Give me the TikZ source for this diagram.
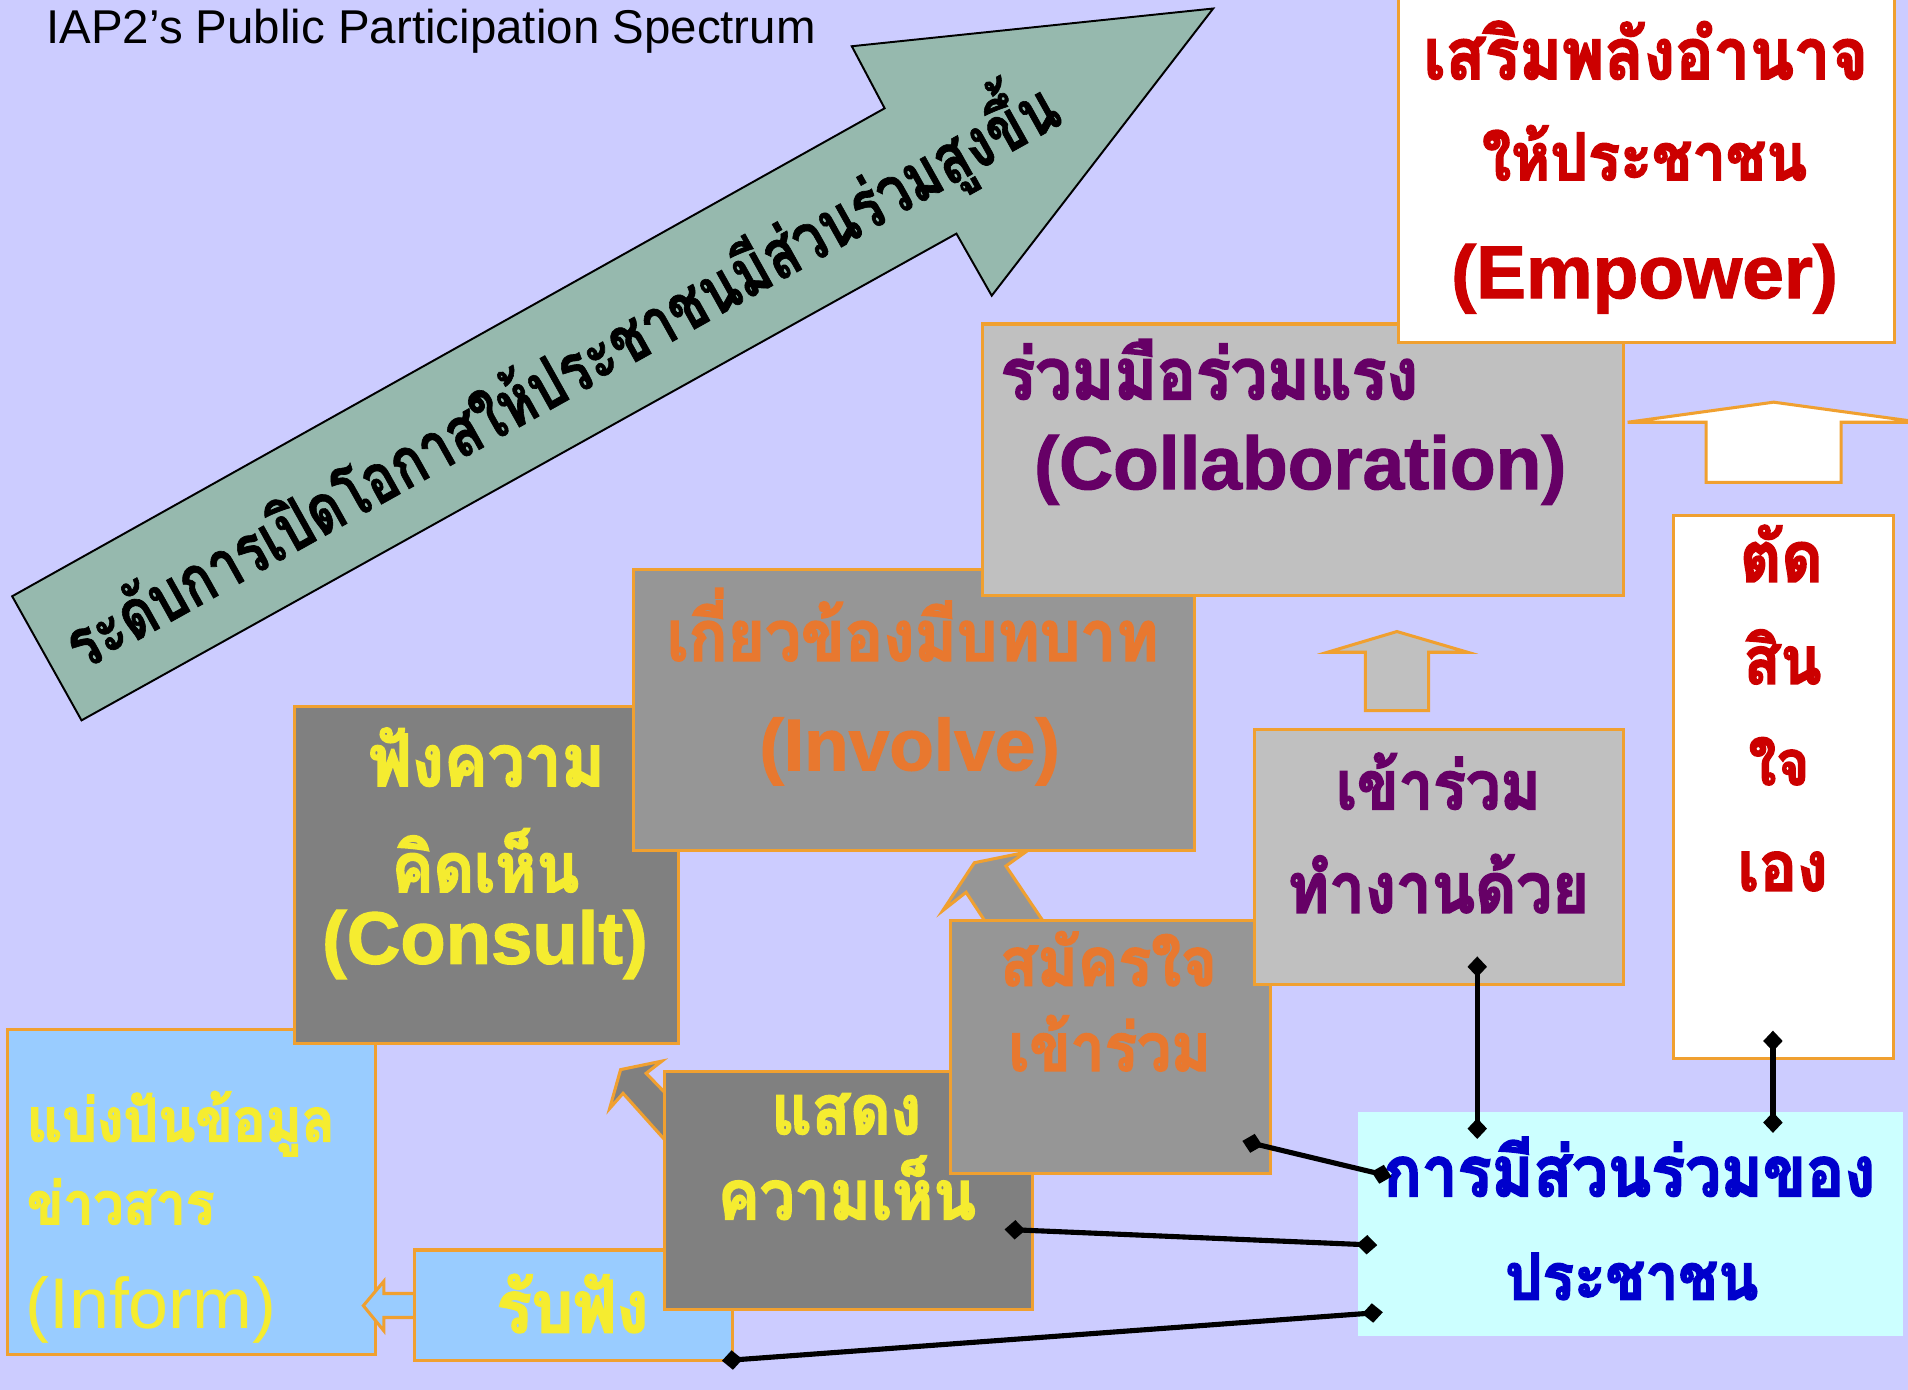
\documentclass[tikz,border=0pt]{standalone}
\usepackage{fontspec}
\setmainfont{Liberation Sans}[BoldFeatures={FakeBold=1.5}]
\newfontfamily\thai[Script=Thai, BoldFeatures={FakeBold=2.5}]{Loma}
\newfontfamily\thaiA[Script=Thai, BoldFeatures={FakeBold=1}]{Loma}
\usetikzlibrary{arrows.meta,calc}
\definecolor{bgc}{HTML}{CCCCFF}
\definecolor{arrowg}{HTML}{96B9AE}
\definecolor{bord}{HTML}{F0A030}
\definecolor{lgray}{HTML}{C0C0C0}
\definecolor{mgray}{HTML}{969696}
\definecolor{dgray}{HTML}{808080}
\definecolor{lblue}{HTML}{99CCFF}
\definecolor{lcyan}{HTML}{CCFFFF}
\definecolor{ytxt}{HTML}{F5EC30}
\definecolor{otxt}{HTML}{E8782F}
\definecolor{ptxt}{HTML}{660066}
\definecolor{rtxt}{HTML}{CC0000}
\definecolor{btxt}{HTML}{0000CC}
\newcommand{\tht}[2]{\scalebox{1}[1.1]{\resizebox{#1pt}{!}{\thai\bfseries #2}}}
\newcommand{\eng}[2]{\bfseries\fontsize{#1}{#1}\selectfont #2}
\begin{document}
\begin{tikzpicture}[x=1pt,y=-1pt,
  box/.style={draw=bord, line width=2.5pt, rectangle, inner sep=0pt, anchor=north west},
  txt/.style={anchor=base, inner sep=0pt},
  blockarrow/.style={draw=bord, line width=2.5pt, line join=miter},
  conn/.style={line width=4.2pt, {Diamond[length=17pt,width=16pt]}-{Diamond[length=17pt,width=16pt]}}]
\useasboundingbox (0,0) rectangle (1568,1142);
\clip (0,0) rectangle (1568,1142);
\fill[bgc] (0,0) rectangle (1568,1142);

% title
\node[txt, anchor=base west] (title) at (38,36) {\fontsize{39}{44}\selectfont IAP2’s Public Participation Spectrum};

% big arrow
\draw[fill=arrowg, line width=1.6pt, line join=miter] (10,490) -- (727,89) -- (700,38) -- (997,7) -- (815,243) -- (786,192) -- (67,592) -- cycle;
\node[inner sep=0pt, rotate=29.2] (arrowtxt) at (460,306) {\scalebox{1}[1.28]{\resizebox{925pt}{!}{\thaiA\bfseries ระดับการเปิดโอกาสให้ประชาชนมีส่วนร่วมสูงขึ้น}}};

% Inform
\node[box, fill=lblue, minimum width=302pt, minimum height=267pt] (inform) at (5,845) {};
\node[txt, anchor=base west, text=ytxt] (inf1) at (22,938) {\tht{253}{แบ่งปันข้อมูล}};
\node[txt, anchor=base west, text=ytxt] (inf2) at (22,1006) {\tht{154}{ข่าวสาร}};
\node[txt, text=ytxt] (inf3) at (124,1092) {\fontsize{59}{64}\selectfont (Inform)};

% Consult
\node[box, fill=dgray, minimum width=315pt, minimum height=277pt] (consult) at (241,579) {};
\node[txt, text=ytxt] (con1) at (400,646) {\tht{194}{ฟังความ}};
\node[txt, text=ytxt] (con2) at (399,733) {\tht{154}{คิดเห็น}};
\node[txt, text=ytxt] (con3) at (398.5,792) {\eng{61}{(Consult)}};

% Involve
\node[box, fill=mgray, minimum width=461pt, minimum height=231pt] (involve) at (519,467) {};
\node[txt, text=otxt] (inv1) at (750,543) {\tht{404}{เกี่ยวข้องมีบทบาท}};
\node[txt, text=otxt] (inv2) at (747.5,633) {\eng{60}{(Involve)}};

% Collaboration
\node[box, fill=lgray, minimum width=527pt, minimum height=223pt] (collab) at (806,265) {};
\node[txt, anchor=base west, text=ptxt] (col1) at (822,328) {\tht{343}{ร่วมมือร่วมแรง}};
\node[txt, text=ptxt] (col2) at (1068.5,402) {\eng{61.5}{(Collaboration)}};

% Empower
\node[box, fill=white, minimum width=408pt, minimum height=285pt] (empower) at (1148,-5) {};
\node[txt, text=rtxt] (emp1) at (1352.5,65) {\tht{365}{เสริมพลังอำนาจ}};
\node[txt, text=rtxt] (emp2) at (1351.5,148) {\tht{267}{ให้ประชาชน}};
\node[txt, text=rtxt] (emp3) at (1351.5,245) {\eng{61.5}{(Empower)}};

% small block arrows under boxes
\draw[blockarrow, fill=dgray] (510,879) -- (544,872) -- (531,882) -- (560,912) -- (560,952) -- (512,898.5) -- (501,911) -- cycle;
\draw[blockarrow, fill=mgray] (800.7,709) -- (842.4,700.5) -- (826.7,711.7) -- (866,770) -- (818,770) -- (793.9,733.3) -- (774.7,748.4) -- cycle;
\draw[blockarrow, fill=lblue] (298.6,1073) -- (315.4,1053) -- (315.4,1063) -- (350,1063) -- (350,1082.7) -- (315.4,1082.7) -- (315.4,1093.6) -- cycle;

% Receive
\node[box, fill=lblue, minimum width=262pt, minimum height=91pt] (receive) at (339,1026) {};
\node[txt, text=ytxt] (rec1) at (470.5,1095) {\tht{125}{รับฟัง}};

% Express
\node[box, fill=dgray, minimum width=302pt, minimum height=196pt] (express) at (545,879) {};
\node[txt, text=ytxt] (exp1) at (695.5,932) {\tht{123}{แสดง}};
\node[txt, text=ytxt] (exp2) at (696,1002) {\tht{212}{ความเห็น}};

% Volunteer
\node[box, fill=mgray, minimum width=263pt, minimum height=208pt] (volunteer) at (780,755) {};
\node[txt, text=otxt] (vol1) at (911,810) {\tht{178}{สมัครใจ}};
\node[txt, text=otxt] (vol2) at (912,880) {\tht{166}{เข้าร่วม}};

% Join
\node[box, fill=lgray, minimum width=303pt, minimum height=210pt] (join) at (1030,598) {};
\node[txt, text=ptxt] (joi1) at (1182,665) {\tht{168}{เข้าร่วม}};
\node[txt, text=ptxt] (joi2) at (1182,750) {\tht{248}{ทำงานด้วย}};

% up arrows
\draw[blockarrow, fill=lgray] (1148,519) -- (1206,536) -- (1174,536) -- (1174,584) -- (1122,584) -- (1122,536) -- (1091,536) -- cycle;
\draw[blockarrow, fill=white] (1457.6,330.5) -- (1578,347) -- (1513,347) -- (1513,396.5) -- (1402,396.5) -- (1402,347) -- (1337.6,347) -- cycle;

% Decide
\node[box, fill=white, minimum width=181pt, minimum height=447pt] (decide) at (1374,422) {};
\node[txt, text=rtxt] (dec1) at (1464,478) {\tht{68}{ตัด}};
\node[txt, text=rtxt] (dec2) at (1465,562) {\tht{64}{สิน}};
\node[txt, text=rtxt] (dec3) at (1462,645) {\tht{50}{ใจ}};
\node[txt, text=rtxt] (dec4) at (1465,732) {\tht{74}{เอง}};

% Participation
\node[rectangle, inner sep=0pt, anchor=north west, fill=lcyan, minimum width=448pt, minimum height=184pt] (particip) at (1116,914) {};
\node[txt, text=btxt] (par1) at (1339,983) {\tht{404}{การมีส่วนร่วมของ}};
\node[txt, text=btxt] (par2) at (1341,1068) {\tht{208}{ประชาชน}};

% connectors
\coordinate (joinpt) at (1214,786);
\coordinate (partA) at (1214,936);
\coordinate (decpt) at (1457,847);
\coordinate (partB) at (1457,931);
\coordinate (volpt) at (1021,937.6);
\coordinate (partC) at (1143.6,967);
\coordinate (exppt) at (825.6,1010.3);
\coordinate (partD) at (1131.8,1023.3);
\coordinate (recpt) at (593.3,1118.3);
\coordinate (partE) at (1136.4,1078.4);
\draw[conn] (joinpt) -- (partA);
\draw[conn] (decpt) -- (partB);
\draw[conn] (volpt) -- (partC);
\draw[conn] (exppt) -- (partD);
\draw[conn] (recpt) -- (partE);
\end{tikzpicture}
\end{document}
